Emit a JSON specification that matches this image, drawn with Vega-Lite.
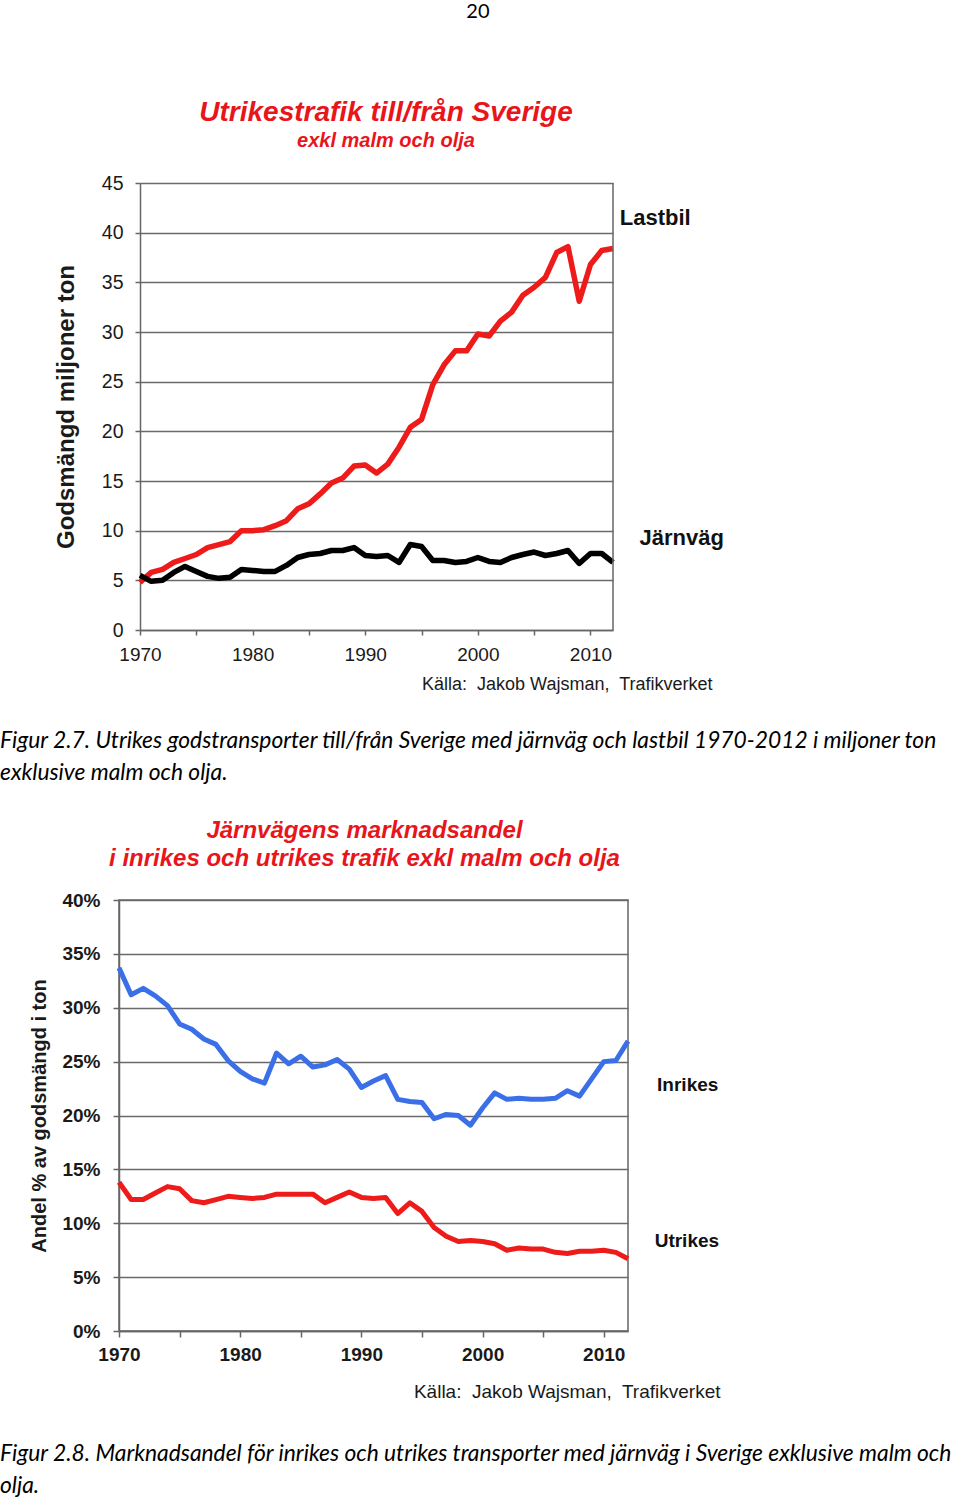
{
  "$schema": "https://vega.github.io/schema/vega-lite/v6.json",
  "padding": {"top": 2, "left": 0, "right": 0, "bottom": 0},
  "background": "white",
  "title": {"text": "20", "font": "Lato", "fontSize": 20, "fontWeight": "normal", "color": "#000", "anchor": "middle", "offset": 77, "dx": 1.5},
  "bounds": "flush",
  "spacing": 134.5,
  "resolve": {"scale": {"color": "independent"}},
  "datasets": {
    "freight": [
      {"year": 1970, "series": "Lastbil", "value": 4.8}, {"year": 1971, "series": "Lastbil", "value": 5.8}, {"year": 1972, "series": "Lastbil", "value": 6.1}, {"year": 1973, "series": "Lastbil", "value": 6.8}, {"year": 1974, "series": "Lastbil", "value": 7.2}, {"year": 1975, "series": "Lastbil", "value": 7.6}, {"year": 1976, "series": "Lastbil", "value": 8.3}, {"year": 1977, "series": "Lastbil", "value": 8.6}, {"year": 1978, "series": "Lastbil", "value": 8.9}, {"year": 1979, "series": "Lastbil", "value": 10.0}, {"year": 1980, "series": "Lastbil", "value": 10.0}, {"year": 1981, "series": "Lastbil", "value": 10.1}, {"year": 1982, "series": "Lastbil", "value": 10.5}, {"year": 1983, "series": "Lastbil", "value": 11.0}, {"year": 1984, "series": "Lastbil", "value": 12.2}, {"year": 1985, "series": "Lastbil", "value": 12.7}, {"year": 1986, "series": "Lastbil", "value": 13.7}, {"year": 1987, "series": "Lastbil", "value": 14.8}, {"year": 1988, "series": "Lastbil", "value": 15.3}, {"year": 1989, "series": "Lastbil", "value": 16.5}, {"year": 1990, "series": "Lastbil", "value": 16.6}, {"year": 1991, "series": "Lastbil", "value": 15.8}, {"year": 1992, "series": "Lastbil", "value": 16.7}, {"year": 1993, "series": "Lastbil", "value": 18.4}, {"year": 1994, "series": "Lastbil", "value": 20.4}, {"year": 1995, "series": "Lastbil", "value": 21.2}, {"year": 1996, "series": "Lastbil", "value": 24.7}, {"year": 1997, "series": "Lastbil", "value": 26.7}, {"year": 1998, "series": "Lastbil", "value": 28.1}, {"year": 1999, "series": "Lastbil", "value": 28.1}, {"year": 2000, "series": "Lastbil", "value": 29.8}, {"year": 2001, "series": "Lastbil", "value": 29.6}, {"year": 2002, "series": "Lastbil", "value": 31.1}, {"year": 2003, "series": "Lastbil", "value": 32.0}, {"year": 2004, "series": "Lastbil", "value": 33.7}, {"year": 2005, "series": "Lastbil", "value": 34.5}, {"year": 2006, "series": "Lastbil", "value": 35.5}, {"year": 2007, "series": "Lastbil", "value": 38.0}, {"year": 2008, "series": "Lastbil", "value": 38.6}, {"year": 2009, "series": "Lastbil", "value": 33.1}, {"year": 2010, "series": "Lastbil", "value": 36.8}, {"year": 2011, "series": "Lastbil", "value": 38.2}, {"year": 2012, "series": "Lastbil", "value": 38.4},
      {"year": 1970, "series": "Järnväg", "value": 5.5}, {"year": 1971, "series": "Järnväg", "value": 4.9}, {"year": 1972, "series": "Järnväg", "value": 5.0}, {"year": 1973, "series": "Järnväg", "value": 5.8}, {"year": 1974, "series": "Järnväg", "value": 6.4}, {"year": 1975, "series": "Järnväg", "value": 5.9}, {"year": 1976, "series": "Järnväg", "value": 5.4}, {"year": 1977, "series": "Järnväg", "value": 5.2}, {"year": 1978, "series": "Järnväg", "value": 5.3}, {"year": 1979, "series": "Järnväg", "value": 6.1}, {"year": 1980, "series": "Järnväg", "value": 6.0}, {"year": 1981, "series": "Järnväg", "value": 5.9}, {"year": 1982, "series": "Järnväg", "value": 5.9}, {"year": 1983, "series": "Järnväg", "value": 6.5}, {"year": 1984, "series": "Järnväg", "value": 7.3}, {"year": 1985, "series": "Järnväg", "value": 7.6}, {"year": 1986, "series": "Järnväg", "value": 7.7}, {"year": 1987, "series": "Järnväg", "value": 8.0}, {"year": 1988, "series": "Järnväg", "value": 8.0}, {"year": 1989, "series": "Järnväg", "value": 8.3}, {"year": 1990, "series": "Järnväg", "value": 7.5}, {"year": 1991, "series": "Järnväg", "value": 7.4}, {"year": 1992, "series": "Järnväg", "value": 7.5}, {"year": 1993, "series": "Järnväg", "value": 6.8}, {"year": 1994, "series": "Järnväg", "value": 8.6}, {"year": 1995, "series": "Järnväg", "value": 8.4}, {"year": 1996, "series": "Järnväg", "value": 7.0}, {"year": 1997, "series": "Järnväg", "value": 7.0}, {"year": 1998, "series": "Järnväg", "value": 6.8}, {"year": 1999, "series": "Järnväg", "value": 6.9}, {"year": 2000, "series": "Järnväg", "value": 7.3}, {"year": 2001, "series": "Järnväg", "value": 6.9}, {"year": 2002, "series": "Järnväg", "value": 6.8}, {"year": 2003, "series": "Järnväg", "value": 7.3}, {"year": 2004, "series": "Järnväg", "value": 7.6}, {"year": 2005, "series": "Järnväg", "value": 7.85}, {"year": 2006, "series": "Järnväg", "value": 7.5}, {"year": 2007, "series": "Järnväg", "value": 7.7}, {"year": 2008, "series": "Järnväg", "value": 8.0}, {"year": 2009, "series": "Järnväg", "value": 6.7}, {"year": 2010, "series": "Järnväg", "value": 7.7}, {"year": 2011, "series": "Järnväg", "value": 7.7}, {"year": 2012, "series": "Järnväg", "value": 6.8}
    ],
    "freightLabels": [
      {"series": "Lastbil", "year": 2012.6, "value": 41.5},
      {"series": "Järnväg", "year": 2014.35, "value": 9.3}
    ],
    "share": [
      {"year": 1970, "series": "Inrikes", "value": 33.7}, {"year": 1971, "series": "Inrikes", "value": 31.2}, {"year": 1972, "series": "Inrikes", "value": 31.8}, {"year": 1973, "series": "Inrikes", "value": 31.1}, {"year": 1974, "series": "Inrikes", "value": 30.2}, {"year": 1975, "series": "Inrikes", "value": 28.5}, {"year": 1976, "series": "Inrikes", "value": 28.0}, {"year": 1977, "series": "Inrikes", "value": 27.1}, {"year": 1978, "series": "Inrikes", "value": 26.6}, {"year": 1979, "series": "Inrikes", "value": 25.1}, {"year": 1980, "series": "Inrikes", "value": 24.1}, {"year": 1981, "series": "Inrikes", "value": 23.4}, {"year": 1982, "series": "Inrikes", "value": 23.0}, {"year": 1983, "series": "Inrikes", "value": 25.8}, {"year": 1984, "series": "Inrikes", "value": 24.8}, {"year": 1985, "series": "Inrikes", "value": 25.5}, {"year": 1986, "series": "Inrikes", "value": 24.5}, {"year": 1987, "series": "Inrikes", "value": 24.7}, {"year": 1988, "series": "Inrikes", "value": 25.2}, {"year": 1989, "series": "Inrikes", "value": 24.3}, {"year": 1990, "series": "Inrikes", "value": 22.6}, {"year": 1991, "series": "Inrikes", "value": 23.2}, {"year": 1992, "series": "Inrikes", "value": 23.7}, {"year": 1993, "series": "Inrikes", "value": 21.5}, {"year": 1994, "series": "Inrikes", "value": 21.3}, {"year": 1995, "series": "Inrikes", "value": 21.2}, {"year": 1996, "series": "Inrikes", "value": 19.7}, {"year": 1997, "series": "Inrikes", "value": 20.1}, {"year": 1998, "series": "Inrikes", "value": 20.0}, {"year": 1999, "series": "Inrikes", "value": 19.1}, {"year": 2000, "series": "Inrikes", "value": 20.7}, {"year": 2001, "series": "Inrikes", "value": 22.1}, {"year": 2002, "series": "Inrikes", "value": 21.5}, {"year": 2003, "series": "Inrikes", "value": 21.6}, {"year": 2004, "series": "Inrikes", "value": 21.5}, {"year": 2005, "series": "Inrikes", "value": 21.5}, {"year": 2006, "series": "Inrikes", "value": 21.6}, {"year": 2007, "series": "Inrikes", "value": 22.3}, {"year": 2008, "series": "Inrikes", "value": 21.8}, {"year": 2009, "series": "Inrikes", "value": 23.4}, {"year": 2010, "series": "Inrikes", "value": 25.0}, {"year": 2011, "series": "Inrikes", "value": 25.1}, {"year": 2012, "series": "Inrikes", "value": 26.9},
      {"year": 1970, "series": "Utrikes", "value": 13.8}, {"year": 1971, "series": "Utrikes", "value": 12.2}, {"year": 1972, "series": "Utrikes", "value": 12.2}, {"year": 1973, "series": "Utrikes", "value": 12.8}, {"year": 1974, "series": "Utrikes", "value": 13.4}, {"year": 1975, "series": "Utrikes", "value": 13.2}, {"year": 1976, "series": "Utrikes", "value": 12.1}, {"year": 1977, "series": "Utrikes", "value": 11.9}, {"year": 1978, "series": "Utrikes", "value": 12.2}, {"year": 1979, "series": "Utrikes", "value": 12.5}, {"year": 1980, "series": "Utrikes", "value": 12.4}, {"year": 1981, "series": "Utrikes", "value": 12.3}, {"year": 1982, "series": "Utrikes", "value": 12.4}, {"year": 1983, "series": "Utrikes", "value": 12.7}, {"year": 1984, "series": "Utrikes", "value": 12.7}, {"year": 1985, "series": "Utrikes", "value": 12.7}, {"year": 1986, "series": "Utrikes", "value": 12.7}, {"year": 1987, "series": "Utrikes", "value": 11.9}, {"year": 1988, "series": "Utrikes", "value": 12.4}, {"year": 1989, "series": "Utrikes", "value": 12.9}, {"year": 1990, "series": "Utrikes", "value": 12.4}, {"year": 1991, "series": "Utrikes", "value": 12.3}, {"year": 1992, "series": "Utrikes", "value": 12.4}, {"year": 1993, "series": "Utrikes", "value": 10.9}, {"year": 1994, "series": "Utrikes", "value": 11.9}, {"year": 1995, "series": "Utrikes", "value": 11.1}, {"year": 1996, "series": "Utrikes", "value": 9.6}, {"year": 1997, "series": "Utrikes", "value": 8.8}, {"year": 1998, "series": "Utrikes", "value": 8.3}, {"year": 1999, "series": "Utrikes", "value": 8.4}, {"year": 2000, "series": "Utrikes", "value": 8.3}, {"year": 2001, "series": "Utrikes", "value": 8.1}, {"year": 2002, "series": "Utrikes", "value": 7.5}, {"year": 2003, "series": "Utrikes", "value": 7.7}, {"year": 2004, "series": "Utrikes", "value": 7.6}, {"year": 2005, "series": "Utrikes", "value": 7.6}, {"year": 2006, "series": "Utrikes", "value": 7.3}, {"year": 2007, "series": "Utrikes", "value": 7.2}, {"year": 2008, "series": "Utrikes", "value": 7.4}, {"year": 2009, "series": "Utrikes", "value": 7.4}, {"year": 2010, "series": "Utrikes", "value": 7.5}, {"year": 2011, "series": "Utrikes", "value": 7.3}, {"year": 2012, "series": "Utrikes", "value": 6.7}
    ],
    "shareLabels": [
      {"series": "Inrikes", "year": 2014.4, "value": 22.8},
      {"series": "Utrikes", "year": 2014.2, "value": 8.35}
    ]
  },
  "vconcat": [
    {
      "width": 494,
      "height": 447,
      "view": {"stroke": null},
      "title": {
        "text": "Utrikestrafik till/från Sverige",
        "subtitle": "exkl malm och olja",
        "anchor": "middle", "frame": "group", "dx": 20, "offset": 22,
        "font": "Liberation Sans", "fontSize": 28, "fontStyle": "italic", "fontWeight": "bold", "color": "#e8151b",
        "subtitleFont": "Liberation Sans", "subtitleFontSize": 20, "subtitleFontStyle": "italic", "subtitleFontWeight": "bold", "subtitleColor": "#e8151b", "subtitlePadding": 4
      },
      "layer": [
        {
          "data": {"name": "freight"},
          "mark": {"type": "line", "strokeWidth": 5.5, "strokeJoin": "round"},
          "encoding": {
            "x": {
              "field": "year", "type": "quantitative",
              "scale": {"domain": [1970, 2012], "range": [21, 494], "nice": false, "zero": false},
              "axis": {
                "values": [1970, 1975, 1980, 1985, 1990, 1995, 2000, 2005, 2010],
                "labelExpr": "datum.value % 10 === 0 ? datum.label : ''",
                "format": "d", "grid": false, "tickSize": 5, "labelPadding": 10, "labelFontSize": 19,
                "title": "Källa:\u00a0 Jakob Wajsman,\u00a0 Trafikverket",
                "titleFontSize": 18, "titleFontWeight": "normal", "titleX": 593, "titleY": 54, "titleAlign": "right", "titleBaseline": "middle"
              }
            },
            "y": {
              "field": "value", "type": "quantitative",
              "scale": {"domain": [0, 45], "nice": false},
              "axis": {
                "values": [0, 5, 10, 15, 20, 25, 30, 35, 40, 45],
                "offset": -21, "grid": true, "tickSize": 5, "labelPadding": 12, "labelFontSize": 19.5,
                "title": "Godsmängd miljoner ton", "titleFontSize": 24, "titleFontWeight": "bold", "titlePadding": 23
              }
            },
            "color": {"field": "series", "type": "nominal", "scale": {"domain": ["Lastbil", "Järnväg"], "range": ["#ee1b1b", "#000000"]}, "legend": null}
          }
        },
        {
          "data": {"values": [{}]},
          "mark": {"type": "rule", "color": "#666", "strokeWidth": 1.5},
          "encoding": {"x": {"datum": 2012}, "y": {"datum": 0}, "y2": {"datum": 45}}
        },
        {
          "data": {"name": "freightLabels"},
          "mark": {"type": "text", "align": "left", "baseline": "middle", "fontSize": 22, "fontWeight": "bold", "color": "#111"},
          "encoding": {
            "x": {"field": "year", "type": "quantitative"},
            "y": {"field": "value", "type": "quantitative"},
            "text": {"field": "series"}
          }
        }
      ]
    },
    {
      "width": 509,
      "height": 1,
      "data": {"values": []},
      "mark": "text",
      "title": {
        "text": ["Figur 2.7. Utrikes godstransporter till/från Sverige med järnväg och lastbil 1970-2012 i miljoner ton", "exklusive malm och olja."],
        "anchor": "start", "frame": "group", "orient": "top", "dx": -119, "offset": -20,
        "font": "Lato", "fontSize": 22.8, "fontStyle": "italic", "fontWeight": "normal", "color": "#000", "lineHeight": 32
      }
    },
    {
      "width": 509,
      "height": 431,
      "view": {"stroke": "#666", "strokeWidth": 1.5},
      "title": {
        "text": ["Järnvägens marknadsandel", "i inrikes och utrikes trafik exkl malm och olja"],
        "anchor": "middle", "frame": "group", "dx": -9, "offset": 20,
        "font": "Liberation Sans", "fontSize": 24, "fontStyle": "italic", "fontWeight": "bold", "color": "#e8151b", "lineHeight": 28
      },
      "layer": [
        {
          "data": {"name": "share"},
          "mark": {"type": "line", "strokeWidth": 5, "strokeJoin": "round"},
          "encoding": {
            "x": {
              "field": "year", "type": "quantitative",
              "scale": {"domain": [1970, 2012], "nice": false, "zero": false},
              "axis": {
                "values": [1970, 1975, 1980, 1985, 1990, 1995, 2000, 2005, 2010],
                "labelExpr": "datum.value % 10 === 0 ? datum.label : ''",
                "format": "d", "grid": false, "tickSize": 6, "labelPadding": 8, "labelFontSize": 19, "labelFontWeight": "bold",
                "title": "Källa:\u00a0 Jakob Wajsman,\u00a0 Trafikverket",
                "titleFontSize": 19, "titleFontWeight": "normal", "titleX": 601, "titleY": 60, "titleAlign": "right", "titleBaseline": "middle"
              }
            },
            "y": {
              "field": "value", "type": "quantitative",
              "scale": {"domain": [0, 40], "nice": false},
              "axis": {
                "values": [0, 5, 10, 15, 20, 25, 30, 35, 40],
                "labelExpr": "datum.value + '%'",
                "grid": true, "tickSize": 6, "labelPadding": 13, "labelFontSize": 19, "labelFontWeight": "bold",
                "title": "Andel % av godsmängd i ton", "titleFontSize": 20, "titleFontWeight": "bold", "titlePadding": 12
              }
            },
            "color": {"field": "series", "type": "nominal", "scale": {"domain": ["Inrikes", "Utrikes"], "range": ["#3b6fe8", "#ee1b1b"]}, "legend": null}
          }
        },
        {
          "data": {"name": "shareLabels"},
          "mark": {"type": "text", "align": "left", "baseline": "middle", "fontSize": 19, "fontWeight": "bold", "color": "#111"},
          "encoding": {
            "x": {"field": "year", "type": "quantitative"},
            "y": {"field": "value", "type": "quantitative"},
            "text": {"field": "series"}
          }
        }
      ]
    },
    {
      "width": 509,
      "height": 1,
      "data": {"values": []},
      "mark": "text",
      "title": {
        "text": ["Figur 2.8. Marknadsandel för inrikes och utrikes transporter med järnväg i Sverige exklusive malm och", "olja."],
        "anchor": "start", "frame": "group", "orient": "top", "dx": -119, "offset": -32,
        "font": "Lato", "fontSize": 22.8, "fontStyle": "italic", "fontWeight": "normal", "color": "#000", "lineHeight": 32
      }
    }
  ],
  "config": {
    "font": "Liberation Sans",
    "view": {"stroke": null},
    "axis": {
      "domainColor": "#666", "domainWidth": 1.5, "tickColor": "#666", "tickWidth": 1.5,
      "gridColor": "#6a6a6a", "gridWidth": 1.5,
      "labelColor": "#1a1a1a", "titleColor": "#1a1a1a", "labelFont": "Liberation Sans", "titleFont": "Liberation Sans",
      "labelFlush": false, "labelOverlap": false
    }
  }
}
